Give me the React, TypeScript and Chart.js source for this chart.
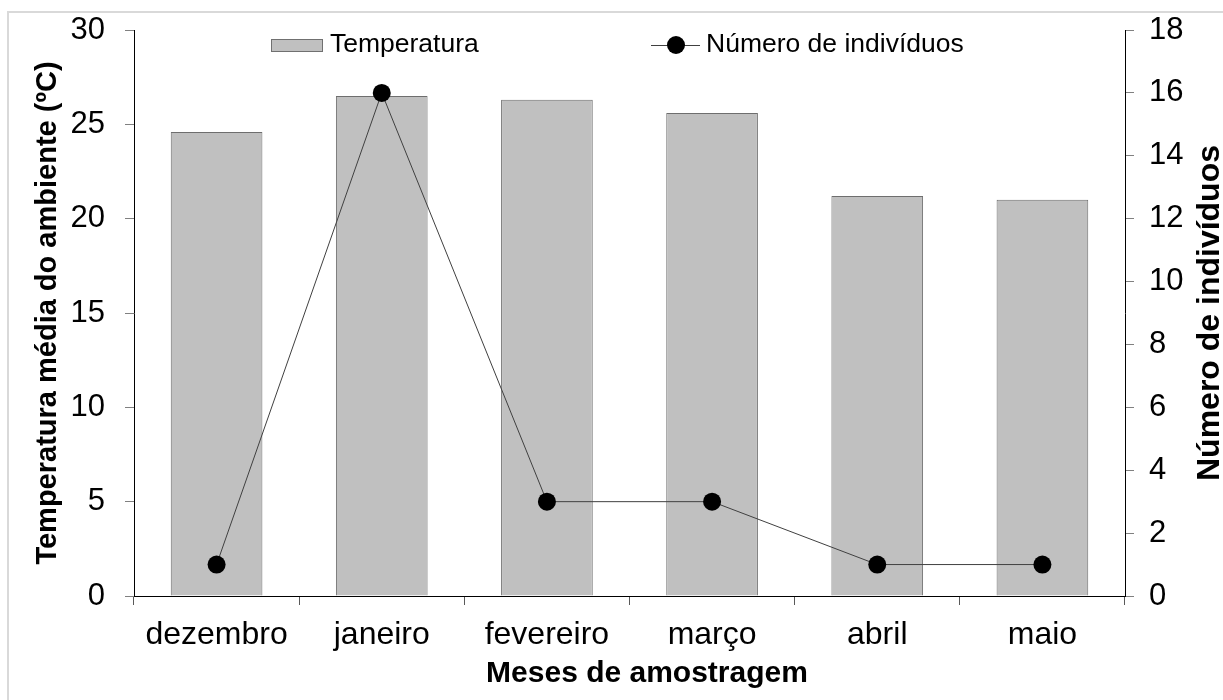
import React, { useEffect, useRef } from "react";
import { Chart, registerables } from "chart.js";

Chart.register(...registerables);

const categories = ["dezembro", "janeiro", "fevereiro", "março", "abril", "maio"];
const temperatura = [24.6, 26.5, 26.3, 25.6, 21.2, 21.0];
const individuos = [1, 16, 3, 3, 1, 1];
const tempLabel = "Temperatura";
const indivLabel = "Número de indivíduos";
const xTitle = "Meses de amostragem";
const yLeftTitle = "Temperatura média do ambiente (ºC)";
const yRightTitle = "Número de indivíduos";

const FONT = "'Liberation Sans', Arial, sans-serif";

const decorPlugin = {
  id: "decor",
  beforeDraw(chart: any) {
    const ctx = chart.ctx;
    ctx.save();
    ctx.fillStyle = "#ffffff";
    ctx.fillRect(0, 0, chart.width, chart.height);
    ctx.fillStyle = "#d9d9d9";
    ctx.fillRect(7, 11, chart.width - 7, 2);
    ctx.fillRect(7, 11, 2, chart.height - 11);
    ctx.restore();
  },
  afterDraw(chart: any) {
    const { ctx, chartArea } = chart;
    const midY = (chartArea.top + chartArea.bottom) / 2;
    ctx.save();
    // legend
    const ly = 45;
    ctx.fillStyle = "#c0c0c0";
    ctx.strokeStyle = "#707070";
    ctx.lineWidth = 1;
    ctx.fillRect(271, 39, 51, 12);
    ctx.strokeRect(271.5, 39.5, 51, 12);
    ctx.fillStyle = "#000";
    ctx.font = `26.5px ${FONT}`;
    ctx.textAlign = "left";
    ctx.textBaseline = "middle";
    ctx.fillText(tempLabel, 330, ly);
    ctx.strokeStyle = "#404040";
    ctx.beginPath();
    ctx.moveTo(651, ly + 0.5);
    ctx.lineTo(700, ly + 0.5);
    ctx.stroke();
    ctx.beginPath();
    ctx.arc(676, ly, 9, 0, Math.PI * 2);
    ctx.fillStyle = "#000";
    ctx.fill();
    ctx.fillText(indivLabel, 706, ly);
    // titles
    ctx.font = `bold 30px ${FONT}`;
    ctx.textAlign = "center";
    ctx.textBaseline = "middle";
    ctx.fillText(xTitle, 647, 674);
    ctx.save();
    ctx.font = `bold 29px ${FONT}`;
    ctx.translate(48, midY);
    ctx.rotate(-Math.PI / 2);
    ctx.fillText(yLeftTitle, 0, 0);
    ctx.restore();
    ctx.save();
    ctx.font = `bold 32px ${FONT}`;
    ctx.translate(1210, midY);
    ctx.rotate(-Math.PI / 2);
    ctx.fillText(yRightTitle, 0, 0);
    ctx.restore();
    ctx.restore();
  },
};

export default function App() {
  const ref = useRef<HTMLCanvasElement | null>(null);

  useEffect(() => {
    if (!ref.current) return;
    const chart = new Chart(ref.current, {
      type: "bar",
      data: {
        labels: categories,
        datasets: [
          {
            type: "line",
            label: indivLabel,
            data: individuos,
            yAxisID: "y1",
            order: 0,
            borderColor: "#404040",
            borderWidth: 1,
            pointRadius: 9,
            pointHoverRadius: 9,
            pointBackgroundColor: "#000",
            pointBorderColor: "#000",
            pointBorderWidth: 0,
            tension: 0,
            fill: false,
          } as any,
          {
            type: "bar",
            label: tempLabel,
            data: temperatura,
            yAxisID: "y",
            order: 1,
            backgroundColor: "#c0c0c0",
            borderColor: "#6e6e6e",
            borderWidth: 1,
            categoryPercentage: 1,
            barPercentage: 0.555,
          } as any,
        ],
      },
      options: {
        responsive: false,
        animation: false,
        layout: { padding: { top: 30, left: 0, right: 0, bottom: 0 } },
        plugins: {
          legend: { display: false },
          tooltip: { enabled: false },
        },
        scales: {
          x: {
            offset: true,
            grid: {
              offset: true,
              drawOnChartArea: false,
              drawTicks: true,
              tickLength: 9,
              color: "#595959",
            },
            border: { display: true, color: "#000", width: 1 },
            ticks: {
              color: "#000",
              font: { family: FONT, size: 32 },
              padding: 11,
              autoSkip: false,
              maxRotation: 0,
              minRotation: 0,
            },
            afterFit: (s: any) => {
              s.height = 104;
              s.paddingLeft = 0;
              s.paddingRight = 0;
            },
          },
          y: {
            position: "left",
            min: 0,
            max: 30,
            ticks: {
              stepSize: 5,
              color: "#000",
              font: { family: FONT, size: 31 },
              padding: 20,
            },
            grid: {
              drawOnChartArea: false,
              drawTicks: true,
              tickLength: 9,
              color: "#808080",
            },
            border: { display: true, color: "#000", width: 1 },
            afterFit: (s: any) => {
              s.width = 134;
              s.paddingTop = 0;
              s.paddingBottom = 0;
            },
          },
          y1: {
            position: "right",
            min: 0,
            max: 18,
            ticks: {
              stepSize: 2,
              color: "#000",
              font: { family: FONT, size: 31 },
              padding: 15,
            },
            grid: {
              drawOnChartArea: false,
              drawTicks: true,
              tickLength: 9,
              color: "#808080",
            },
            border: { display: true, color: "#000", width: 1 },
            afterFit: (s: any) => {
              s.width = 98;
              s.paddingTop = 0;
              s.paddingBottom = 0;
            },
          },
        },
      },
      plugins: [decorPlugin],
    });
    return () => chart.destroy();
  }, []);

  return (
    <div style={{ position: "fixed", left: 0, top: 0, width: 1223, height: 700, background: "#fff" }}>
      <canvas ref={ref} width={1223} height={700} style={{ display: "block", width: 1223, height: 700 }} />
    </div>
  );
}
